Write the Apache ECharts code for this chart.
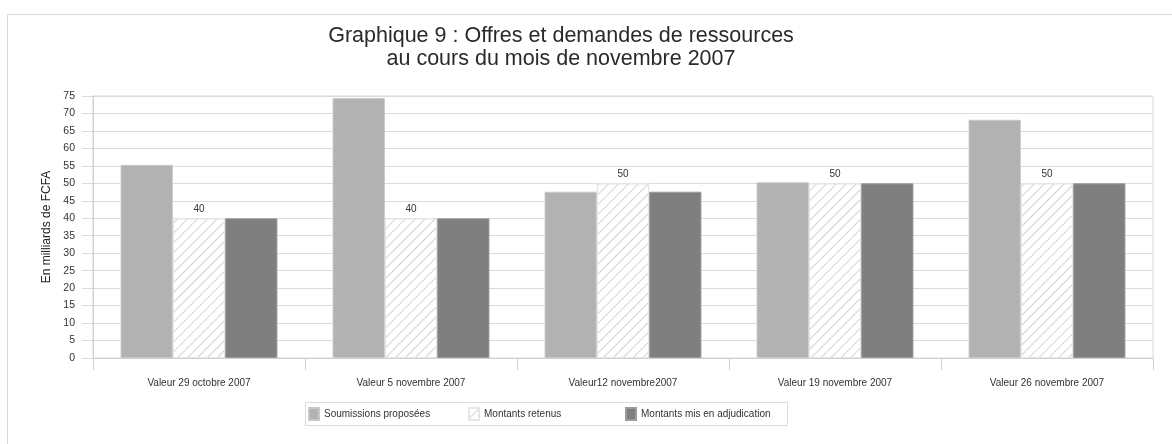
<!DOCTYPE html>
<html><head><meta charset="utf-8">
<script src="https://cdn.jsdelivr.net/npm/echarts@6/dist/echarts.min.js"></script>
<style>html,body{margin:0;padding:0;background:#fff}#c{width:1172px;height:444px}</style>
</head><body><div id="c"></div>
<script>
const categories = ['Valeur 29 octobre 2007','Valeur 5 novembre 2007','Valeur12 novembre2007','Valeur 19 novembre 2007','Valeur 26 novembre 2007'];
const soumissions = [55.3, 74.4, 47.6, 50.3, 68.2];
const retenus = [40, 40, 50, 50, 50];
const adjudication = [40, 40, 47.6, 50, 50];
const yTicks = [0,5,10,15,20,25,30,35,40,45,50,55,60,65,70,75];
const seriesNames = ['Soumissions proposées','Montants retenus','Montants mis en adjudication'];

const F = 'Liberation Sans, Arial, sans-serif';
const chart = echarts.init(document.getElementById('c'), null, {renderer:'canvas'});
const legendLeft = [308, 468, 625];
chart.setOption({
  animation:false,
  backgroundColor:'#fff',
  title:{
    text:'Graphique 9 : Offres et demandes de ressources\nau cours du mois de novembre 2007',
    left:556, top:20, textAlign:'center',
    textStyle:{fontFamily:F, fontSize:21.5, fontWeight:'normal', color:'#2a2a2a', lineHeight:23}
  },
  graphic:[
    {type:'rect', shape:{x:7.5,y:14.5,width:1200,height:500}, style:{fill:'none',stroke:'#d9d9d9',lineWidth:1}, z:-10},
    {type:'rect', shape:{x:305.5,y:402.5,width:482,height:23}, style:{fill:'none',stroke:'#dcdcdc',lineWidth:1}}
  ],
  legend: seriesNames.map((n,i)=>({
    data:[n], left:legendLeft[i], top:407, itemWidth:10, itemHeight:12, padding:0,
    icon:'rect',
    textStyle:{fontFamily:F, fontSize:10, color:'#333'}
  })),
  grid:{left:93, top:96, right:19, bottom:86, show:true, borderColor:'#d9d9d9', borderWidth:1},
  xAxis:{
    type:'category', data:categories,
    axisLine:{show:true, lineStyle:{color:'#d0d0d0'}},
    axisTick:{show:true, length:12, lineStyle:{color:'#d0d0d0'}},
    axisLabel:{fontFamily:F, fontSize:10, color:'#333', margin:20}
  },
  yAxis:{
    type:'value', min:yTicks[0], max:yTicks[yTicks.length-1], interval:5,
    name:'En milliards de FCFA', nameLocation:'middle', nameGap:40,
    nameTextStyle:{fontFamily:F, fontSize:12, color:'#222'},
    axisLine:{show:true, lineStyle:{color:'#d0d0d0'}},
    axisTick:{show:true, length:11, lineStyle:{color:'#dcdcdc'}},
    axisLabel:{fontFamily:F, fontSize:10.5, color:'#333', margin:18},
    splitLine:{lineStyle:{color:'#dcdcdc', width:1}}
  },
  series:[
    {name:seriesNames[0], type:'bar', data:soumissions, barGap:'0%', barCategoryGap:'26%',
     itemStyle:{color:'#b2b2b2', borderColor:'#c8c8c8', borderWidth:1}},
    {name:seriesNames[1], type:'bar', data:retenus, barGap:'0%', barCategoryGap:'26%',
     itemStyle:{color:'#ffffff', borderColor:'#e6e6e6', borderWidth:1,
       decal:{symbol:'rect', dashArrayX:[1,0], dashArrayY:[1,6], rotation:-Math.PI/4, color:'#d2d2d2'}},
     label:{show:true, position:'top', distance:4, fontFamily:F, fontSize:10, color:'#333'}},
    {name:seriesNames[2], type:'bar', data:adjudication, barGap:'0%', barCategoryGap:'26%',
     itemStyle:{color:'#7f7f7f', borderColor:'#9a9a9a', borderWidth:1}}
  ]
});
</script></body></html>
